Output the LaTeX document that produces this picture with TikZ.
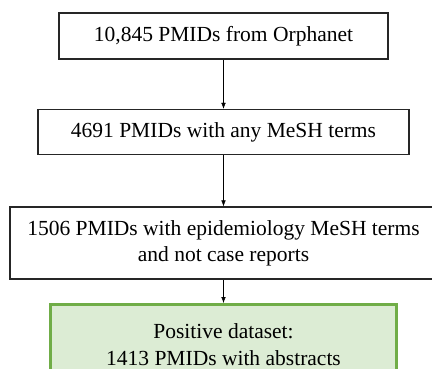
\documentclass[tikz,border=0pt]{standalone}
\usepackage{fontspec}
\setmainfont{Liberation Serif}
\newfontfamily\boxfont{Liberation Serif}
\usetikzlibrary{arrows.meta,positioning}
\definecolor{posline}{RGB}{112,173,71}
\definecolor{posfill}{RGB}{220,236,212}

\begin{document}
\begin{tikzpicture}[x=1pt, y=1pt, >={Latex[length=6pt,width=4.5pt]}, every node/.style={font=\boxfont\fontsize{21.5}{26.5}\selectfont}, stepbox/.style={draw=black!85, line width=1.6pt, align=center, inner sep=0pt, fill=white}, finalbox/.style={stepbox, draw=posline, fill=posfill, line width=3pt}]
\useasboundingbox (0,0) rectangle (432,-369);
\clip (0,0) rectangle (432,-369);
\node[stepbox, minimum width=329pt, minimum height=46pt] (orpha) at (223.5,-36) {10,845 PMIDs from Orphanet};
\node[stepbox, below=49pt of orpha, minimum width=371pt, minimum height=45pt] (mesh) {4691 PMIDs with any MeSH terms};
\node[stepbox, below=51pt of mesh, minimum width=427pt, minimum height=72pt] (epi) {1506 PMIDs with epidemiology MeSH terms\\and not case reports};
\node[finalbox, below=23pt of epi, minimum width=346pt, minimum height=80pt] (pos) {Positive dataset:\\1413 PMIDs with abstracts};
\draw[->] (orpha) -- (mesh); \draw[->] (mesh) -- (epi); \draw[->] (epi) -- (pos);
\end{tikzpicture}
\end{document}
